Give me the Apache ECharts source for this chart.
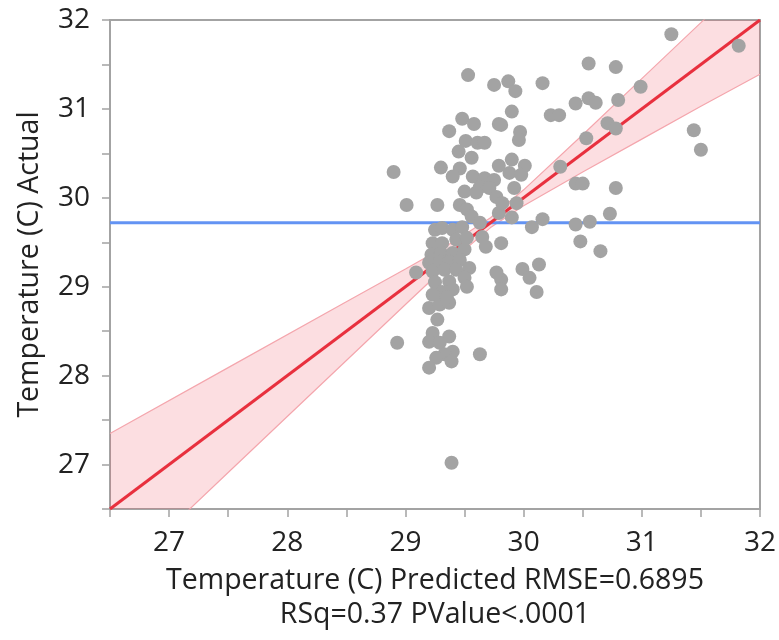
<!DOCTYPE html>
<html>
<head>
<meta charset="utf-8">
<script src="https://cdn.jsdelivr.net/npm/echarts@6/dist/echarts.min.js"></script>
<style>
  html, body { margin: 0; padding: 0; background: #fff; }
  #chart { width: 779px; height: 640px; }
</style>
</head>
<body>
<div id="chart"></div>
<script>
// predicted (x) vs actual (y)
const points = [
  [31.25, 31.84], [31.82, 31.71], [30.55, 31.51], [30.78, 31.47], [29.53, 31.38],
  [29.75, 31.27], [29.87, 31.31], [29.93, 31.20], [30.16, 31.29], [30.44, 31.06],
  [30.55, 31.12], [30.61, 31.07], [30.80, 31.10], [30.99, 31.25], [29.48, 30.89],
  [29.58, 30.83], [29.79, 30.83], [29.90, 30.97], [30.23, 30.93], [30.30, 30.93],
  [29.37, 30.75], [29.51, 30.64], [29.61, 30.62], [29.67, 30.62], [29.45, 30.52],
  [29.56, 30.45], [29.81, 30.82], [29.97, 30.74], [29.96, 30.65], [30.53, 30.67],
  [30.71, 30.84], [30.78, 30.78], [31.44, 30.76], [31.50, 30.54], [28.90, 30.29],
  [29.30, 30.34], [29.46, 30.33], [29.40, 30.24], [29.79, 30.36], [29.57, 30.24],
  [29.67, 30.22], [29.75, 30.20], [29.63, 30.12], [29.71, 30.11], [29.50, 30.07],
  [29.90, 30.43], [30.01, 30.36], [29.88, 30.28], [29.98, 30.26], [30.31, 30.35],
  [29.92, 30.11], [30.44, 30.16], [30.50, 30.16], [30.78, 30.11], [30.73, 29.82],
  [30.16, 29.76], [30.44, 29.70], [30.56, 29.73], [30.48, 29.51], [30.65, 29.40],
  [30.13, 29.25], [29.94, 29.94], [29.79, 29.83], [29.90, 29.78], [30.07, 29.67],
  [29.81, 29.49], [29.99, 29.20], [30.05, 29.10], [30.11, 28.94], [29.81, 29.08],
  [29.81, 28.97], [29.77, 29.16], [29.01, 29.92], [29.27, 29.92], [29.60, 30.06],
  [29.46, 29.92], [29.52, 29.87], [29.77, 30.01], [29.82, 29.94], [29.56, 29.79],
  [29.63, 29.72], [29.25, 29.64], [29.31, 29.66], [29.40, 29.64], [29.48, 29.67],
  [29.65, 29.56], [29.68, 29.45], [29.23, 29.49], [29.31, 29.49], [29.43, 29.53],
  [29.52, 29.55], [29.22, 29.36], [29.30, 29.38], [29.40, 29.38], [29.50, 29.42],
  [29.20, 29.27], [29.29, 29.28], [29.37, 29.28], [29.46, 29.30], [29.09, 29.16],
  [29.23, 29.17], [29.33, 29.19], [29.43, 29.19], [29.54, 29.21], [29.25, 29.05],
  [29.37, 29.06], [29.50, 29.10], [29.31, 28.94], [29.40, 28.97], [29.52, 29.00],
  [29.23, 28.91], [29.20, 28.76], [29.29, 28.80], [29.37, 28.82], [29.35, 28.88],
  [29.27, 28.63], [29.23, 28.48], [29.37, 28.44], [29.20, 28.38], [29.29, 28.37],
  [28.93, 28.37], [29.40, 28.27], [29.33, 28.24], [29.26, 28.20], [29.63, 28.24],
  [29.39, 28.16], [29.20, 28.09], [29.39, 27.02]
];

// fitted line and confidence band
const fitX = [26.5, 32];
const fitY = [26.5, 32];
const bandX = [26.5, 27.5, 28.5, 29.0, 29.4, 29.72, 30.0, 30.5, 31.0, 31.5, 32.0];
const bandLow = [25.65, 26.91, 28.17, 28.80, 29.30, 29.665, 29.91, 30.29, 30.66, 31.03, 31.39];
const bandHigh = [27.35, 28.09, 28.83, 29.20, 29.50, 29.775, 30.09, 30.71, 31.34, 31.97, 32.61];
const meanY = 29.72;

const axisMin = 26.5, axisMax = 32;
const xTitle = 'Temperature (C) Predicted RMSE=0.6895\nRSq=0.37 PValue<.0001';
const yTitle = 'Temperature (C) Actual';

const chart = echarts.init(document.getElementById('chart'));
const font = 'Open Sans';
const axisGray = '#a3a3a3';
const bandEdge = '#f4a6ad';

function axisCommon() {
  return {
    type: 'value',
    min: axisMin,
    max: axisMax,
    interval: 0.5,
    splitLine: { show: false },
    axisLine: { show: true, lineStyle: { color: axisGray, width: 2 } },
    axisTick: { show: true, length: 8, lineStyle: { color: axisGray, width: 1.5 } },
    axisLabel: {
      color: '#222',
      fontFamily: font,
      fontSize: 28,
      margin: 20,
      formatter: v => (Number.isInteger(v) && v > axisMin ? String(v) : '')
    },
    nameLocation: 'middle',
    nameTextStyle: { color: '#222', fontFamily: font, fontSize: 28.5, lineHeight: 34 }
  };
}

const option = {
  animation: false,
  grid: {
    left: 110, right: 17, top: 20, bottom: 131,
    show: true, borderColor: axisGray, borderWidth: 2, backgroundColor: '#fff'
  },
  xAxis: Object.assign(axisCommon(), { name: xTitle, nameGap: 55 }),
  yAxis: Object.assign(axisCommon(), { name: yTitle, nameGap: 62 }),
  series: [
    {
      name: 'band',
      type: 'custom',
      clip: true,
      silent: true,
      data: [[bandX[0], bandLow[0]]],
      renderItem: (params, api) => {
        const upper = bandX.map((x, i) => api.coord([x, bandHigh[i]]));
        const lower = bandX.map((x, i) => api.coord([x, bandLow[i]])).reverse();
        return {
          type: 'polygon',
          shape: { points: upper.concat(lower) },
          style: { fill: 'rgba(240, 70, 90, 0.18)', stroke: 'none' }
        };
      },
      z: 1
    },
    {
      name: 'bandLow',
      type: 'line',
      symbol: 'none',
      lineStyle: { color: bandEdge, width: 1.2 },
      data: bandX.map((x, i) => [x, bandLow[i]]),
      z: 1
    },
    {
      name: 'bandHigh',
      type: 'line',
      symbol: 'none',
      lineStyle: { color: bandEdge, width: 1.2 },
      data: bandX.map((x, i) => [x, bandHigh[i]]),
      z: 1
    },
    {
      name: 'mean',
      type: 'line',
      symbol: 'none',
      lineStyle: { color: '#6393f3', width: 3 },
      data: [[axisMin, meanY], [axisMax, meanY]],
      z: 2
    },
    {
      name: 'fit',
      type: 'line',
      symbol: 'none',
      lineStyle: { color: '#e8303e', width: 3 },
      data: fitX.map((x, i) => [x, fitY[i]]),
      z: 3
    },
    {
      name: 'points',
      type: 'scatter',
      symbolSize: 14,
      itemStyle: { color: '#a3a3a3', opacity: 1 },
      data: points,
      z: 4
    }
  ]
};

chart.setOption(option);
</script>
</body>
</html>
